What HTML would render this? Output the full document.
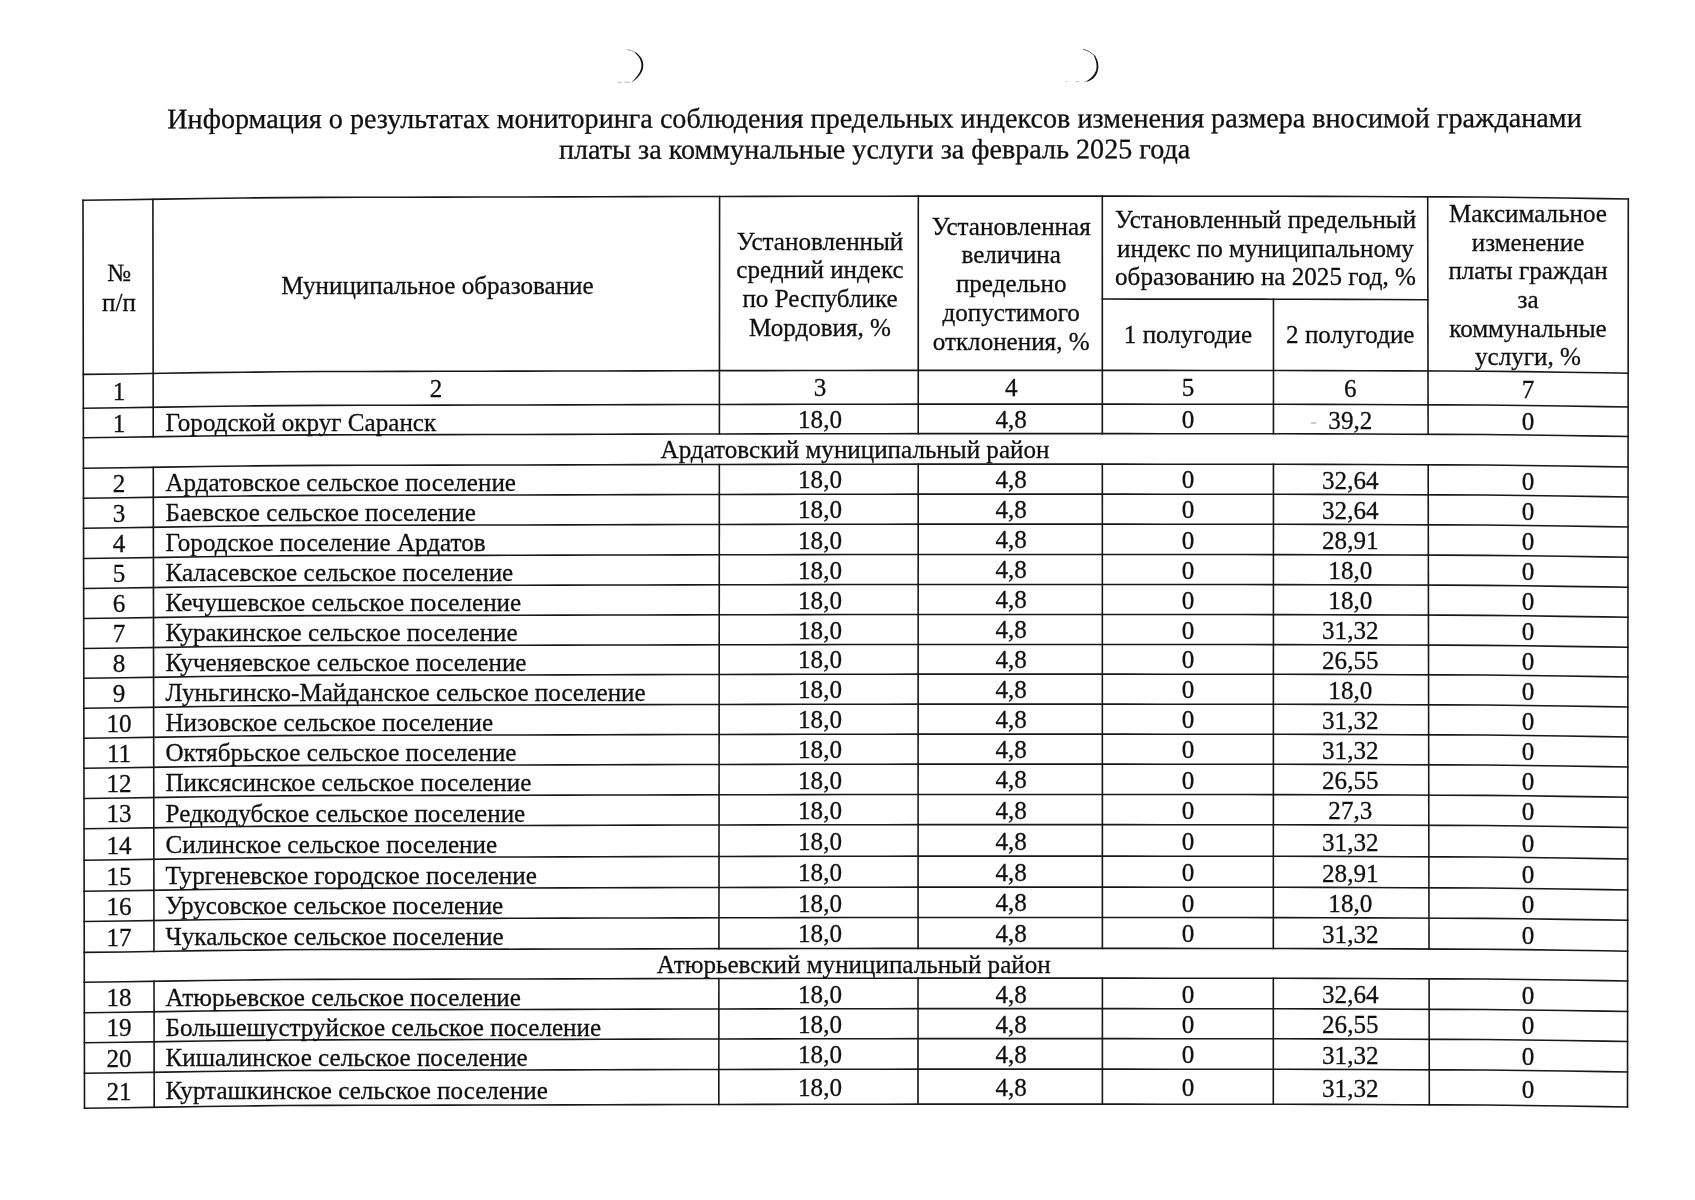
<!DOCTYPE html>
<html><head><meta charset="utf-8"><style>
html,body{margin:0;padding:0;background:#fff;}
body{width:1695px;height:1200px;overflow:hidden;}
svg{position:absolute;left:0;top:0;filter:grayscale(1);}
text{font-family:"Liberation Serif", serif;fill:#111;}
</style></head><body>
<svg width="1695" height="1200" viewBox="0 0 1695 1200">
<g fill="none" stroke="#181818" stroke-width="1.6" stroke-linecap="square">
<path d="M83.0,200.20 L123.0,199.78 L163.0,199.12 L203.0,198.47 L243.0,198.03 L283.0,197.59 L323.0,197.35 L363.0,197.27 L403.0,197.19 L443.0,197.11 L483.0,197.03 L523.0,196.94 L563.0,196.84 L603.0,196.74 L643.0,196.64 L683.0,196.54 L723.0,196.46 L763.0,196.39 L803.0,196.32 L843.0,196.25 L883.0,196.18 L923.0,196.15 L963.0,196.15 L1003.0,196.15 L1043.0,196.15 L1083.0,196.15 L1123.0,196.17 L1163.0,196.20 L1203.0,196.23 L1243.0,196.26 L1283.0,196.29 L1323.0,196.39 L1363.0,196.55 L1403.0,196.71 L1443.0,196.87 L1483.0,197.03 L1523.0,197.43 L1563.0,198.02 L1603.0,198.60 L1628.3,199.00"/>
<path d="M83.3,374.40 L123.3,373.98 L163.3,373.31 L203.3,372.66 L243.3,372.22 L283.3,371.78 L323.3,371.55 L363.3,371.47 L403.3,371.39 L443.3,371.31 L483.3,371.23 L523.3,371.14 L563.3,371.04 L603.3,370.94 L643.3,370.84 L683.3,370.74 L723.3,370.66 L763.3,370.59 L803.3,370.52 L843.3,370.45 L883.3,370.38 L923.3,370.35 L963.3,370.35 L1003.3,370.35 L1043.3,370.35 L1083.3,370.35 L1123.3,370.37 L1163.3,370.40 L1203.3,370.43 L1243.3,370.46 L1283.3,370.49 L1323.3,370.59 L1363.3,370.75 L1403.3,370.91 L1443.3,371.07 L1483.3,371.23 L1523.3,371.64 L1563.3,372.22 L1603.3,372.80 L1628.1,373.20"/>
<path d="M83.3,408.20 L123.3,407.78 L163.3,407.11 L203.3,406.46 L243.3,406.02 L283.3,405.58 L323.3,405.35 L363.3,405.27 L403.3,405.19 L443.3,405.11 L483.3,405.03 L523.3,404.94 L563.3,404.84 L603.3,404.74 L643.3,404.64 L683.3,404.54 L723.3,404.46 L763.3,404.39 L803.3,404.32 L843.3,404.25 L883.3,404.18 L923.3,404.15 L963.3,404.15 L1003.3,404.15 L1043.3,404.15 L1083.3,404.15 L1123.3,404.17 L1163.3,404.20 L1203.3,404.23 L1243.3,404.26 L1283.3,404.29 L1323.3,404.39 L1363.3,404.55 L1403.3,404.71 L1443.3,404.87 L1483.3,405.03 L1523.3,405.44 L1563.3,406.02 L1603.3,406.60 L1628.1,407.00"/>
<path d="M83.4,437.70 L123.4,437.28 L163.4,436.61 L203.4,435.96 L243.4,435.52 L283.4,435.08 L323.4,434.85 L363.4,434.77 L403.4,434.69 L443.4,434.61 L483.4,434.53 L523.4,434.44 L563.4,434.34 L603.4,434.24 L643.4,434.14 L683.4,434.04 L723.4,433.96 L763.4,433.89 L803.4,433.82 L843.4,433.75 L883.4,433.68 L923.4,433.65 L963.4,433.65 L1003.4,433.65 L1043.4,433.65 L1083.4,433.65 L1123.4,433.67 L1163.4,433.70 L1203.4,433.73 L1243.4,433.76 L1283.4,433.79 L1323.4,433.89 L1363.4,434.05 L1403.4,434.21 L1443.4,434.37 L1483.4,434.53 L1523.4,434.94 L1563.4,435.52 L1603.4,436.10 L1628.1,436.50"/>
<path d="M83.4,468.20 L123.4,467.78 L163.4,467.11 L203.4,466.46 L243.4,466.02 L283.4,465.58 L323.4,465.35 L363.4,465.27 L403.4,465.19 L443.4,465.11 L483.4,465.03 L523.4,464.94 L563.4,464.84 L603.4,464.74 L643.4,464.64 L683.4,464.54 L723.4,464.46 L763.4,464.39 L803.4,464.32 L843.4,464.25 L883.4,464.18 L923.4,464.15 L963.4,464.15 L1003.4,464.15 L1043.4,464.15 L1083.4,464.15 L1123.4,464.17 L1163.4,464.20 L1203.4,464.23 L1243.4,464.26 L1283.4,464.29 L1323.4,464.39 L1363.4,464.55 L1403.4,464.71 L1443.4,464.87 L1483.4,465.03 L1523.4,465.44 L1563.4,466.02 L1603.4,466.60 L1628.1,467.00"/>
<path d="M83.5,498.20 L123.5,497.78 L163.5,497.11 L203.5,496.46 L243.5,496.02 L283.5,495.58 L323.5,495.35 L363.5,495.27 L403.5,495.19 L443.5,495.11 L483.5,495.03 L523.5,494.94 L563.5,494.84 L603.5,494.74 L643.5,494.64 L683.5,494.54 L723.5,494.46 L763.5,494.39 L803.5,494.32 L843.5,494.25 L883.5,494.18 L923.5,494.15 L963.5,494.15 L1003.5,494.15 L1043.5,494.15 L1083.5,494.15 L1123.5,494.17 L1163.5,494.20 L1203.5,494.23 L1243.5,494.26 L1283.5,494.29 L1323.5,494.39 L1363.5,494.55 L1403.5,494.71 L1443.5,494.87 L1483.5,495.03 L1523.5,495.44 L1563.5,496.02 L1603.5,496.61 L1628.0,497.00"/>
<path d="M83.5,528.20 L123.5,527.77 L163.5,527.11 L203.5,526.46 L243.5,526.02 L283.5,525.58 L323.5,525.35 L363.5,525.27 L403.5,525.19 L443.5,525.11 L483.5,525.03 L523.5,524.94 L563.5,524.84 L603.5,524.74 L643.5,524.64 L683.5,524.54 L723.5,524.46 L763.5,524.39 L803.5,524.32 L843.5,524.25 L883.5,524.18 L923.5,524.15 L963.5,524.15 L1003.5,524.15 L1043.5,524.15 L1083.5,524.15 L1123.5,524.17 L1163.5,524.20 L1203.5,524.23 L1243.5,524.26 L1283.5,524.29 L1323.5,524.39 L1363.5,524.55 L1403.5,524.71 L1443.5,524.87 L1483.5,525.03 L1523.5,525.44 L1563.5,526.02 L1603.5,526.61 L1628.0,527.00"/>
<path d="M83.6,558.50 L123.6,558.07 L163.6,557.41 L203.6,556.76 L243.6,556.32 L283.6,555.88 L323.6,555.65 L363.6,555.57 L403.6,555.49 L443.6,555.41 L483.6,555.33 L523.6,555.24 L563.6,555.14 L603.6,555.04 L643.6,554.94 L683.6,554.84 L723.6,554.76 L763.6,554.69 L803.6,554.62 L843.6,554.55 L883.6,554.48 L923.6,554.45 L963.6,554.45 L1003.6,554.45 L1043.6,554.45 L1083.6,554.45 L1123.6,554.47 L1163.6,554.50 L1203.6,554.53 L1243.6,554.56 L1283.6,554.59 L1323.6,554.69 L1363.6,554.85 L1403.6,555.01 L1443.6,555.17 L1483.6,555.33 L1523.6,555.74 L1563.6,556.32 L1603.6,556.91 L1628.0,557.30"/>
<path d="M83.6,588.50 L123.6,588.07 L163.6,587.41 L203.6,586.76 L243.6,586.32 L283.6,585.88 L323.6,585.65 L363.6,585.57 L403.6,585.49 L443.6,585.41 L483.6,585.33 L523.6,585.24 L563.6,585.14 L603.6,585.04 L643.6,584.94 L683.6,584.84 L723.6,584.76 L763.6,584.69 L803.6,584.62 L843.6,584.55 L883.6,584.48 L923.6,584.45 L963.6,584.45 L1003.6,584.45 L1043.6,584.45 L1083.6,584.45 L1123.6,584.47 L1163.6,584.50 L1203.6,584.53 L1243.6,584.56 L1283.6,584.59 L1323.6,584.69 L1363.6,584.85 L1403.6,585.01 L1443.6,585.17 L1483.6,585.33 L1523.6,585.74 L1563.6,586.33 L1603.6,586.91 L1628.0,587.30"/>
<path d="M83.7,618.49 L123.7,618.07 L163.7,617.41 L203.7,616.76 L243.7,616.32 L283.7,615.88 L323.7,615.65 L363.7,615.57 L403.7,615.49 L443.7,615.41 L483.7,615.33 L523.7,615.24 L563.7,615.14 L603.7,615.04 L643.7,614.94 L683.7,614.84 L723.7,614.76 L763.7,614.69 L803.7,614.62 L843.7,614.55 L883.7,614.48 L923.7,614.45 L963.7,614.45 L1003.7,614.45 L1043.7,614.45 L1083.7,614.45 L1123.7,614.47 L1163.7,614.50 L1203.7,614.53 L1243.7,614.56 L1283.7,614.59 L1323.7,614.69 L1363.7,614.85 L1403.7,615.01 L1443.7,615.17 L1483.7,615.33 L1523.7,615.74 L1563.7,616.33 L1603.7,616.91 L1627.9,617.30"/>
<path d="M83.7,648.49 L123.7,648.07 L163.7,647.40 L203.7,646.76 L243.7,646.32 L283.7,645.88 L323.7,645.65 L363.7,645.57 L403.7,645.49 L443.7,645.41 L483.7,645.33 L523.7,645.24 L563.7,645.14 L603.7,645.04 L643.7,644.94 L683.7,644.84 L723.7,644.76 L763.7,644.69 L803.7,644.62 L843.7,644.55 L883.7,644.48 L923.7,644.45 L963.7,644.45 L1003.7,644.45 L1043.7,644.45 L1083.7,644.45 L1123.7,644.47 L1163.7,644.50 L1203.7,644.53 L1243.7,644.56 L1283.7,644.59 L1323.7,644.69 L1363.7,644.85 L1403.7,645.01 L1443.7,645.17 L1483.7,645.33 L1523.7,645.75 L1563.7,646.33 L1603.7,646.91 L1627.9,647.30"/>
<path d="M83.8,678.19 L123.8,677.77 L163.8,677.10 L203.8,676.46 L243.8,676.02 L283.8,675.58 L323.8,675.35 L363.8,675.27 L403.8,675.19 L443.8,675.11 L483.8,675.03 L523.8,674.94 L563.8,674.84 L603.8,674.74 L643.8,674.64 L683.8,674.54 L723.8,674.46 L763.8,674.39 L803.8,674.32 L843.8,674.25 L883.8,674.18 L923.8,674.15 L963.8,674.15 L1003.8,674.15 L1043.8,674.15 L1083.8,674.15 L1123.8,674.17 L1163.8,674.20 L1203.8,674.23 L1243.8,674.26 L1283.8,674.29 L1323.8,674.40 L1363.8,674.56 L1403.8,674.72 L1443.8,674.88 L1483.8,675.04 L1523.8,675.45 L1563.8,676.03 L1603.8,676.61 L1627.9,677.00"/>
<path d="M83.8,708.19 L123.8,707.77 L163.8,707.10 L203.8,706.46 L243.8,706.02 L283.8,705.58 L323.8,705.35 L363.8,705.27 L403.8,705.19 L443.8,705.11 L483.8,705.03 L523.8,704.94 L563.8,704.84 L603.8,704.74 L643.8,704.64 L683.8,704.54 L723.8,704.46 L763.8,704.39 L803.8,704.32 L843.8,704.25 L883.8,704.18 L923.8,704.15 L963.8,704.15 L1003.8,704.15 L1043.8,704.15 L1083.8,704.15 L1123.8,704.17 L1163.8,704.20 L1203.8,704.23 L1243.8,704.26 L1283.8,704.29 L1323.8,704.40 L1363.8,704.56 L1403.8,704.72 L1443.8,704.88 L1483.8,705.04 L1523.8,705.45 L1563.8,706.03 L1603.8,706.61 L1627.9,707.00"/>
<path d="M83.9,738.19 L123.9,737.77 L163.9,737.10 L203.9,736.46 L243.9,736.02 L283.9,735.58 L323.9,735.35 L363.9,735.27 L403.9,735.19 L443.9,735.11 L483.9,735.03 L523.9,734.94 L563.9,734.84 L603.9,734.74 L643.9,734.64 L683.9,734.54 L723.9,734.46 L763.9,734.39 L803.9,734.32 L843.9,734.25 L883.9,734.18 L923.9,734.15 L963.9,734.15 L1003.9,734.15 L1043.9,734.15 L1083.9,734.15 L1123.9,734.17 L1163.9,734.20 L1203.9,734.23 L1243.9,734.26 L1283.9,734.29 L1323.9,734.40 L1363.9,734.56 L1403.9,734.72 L1443.9,734.88 L1483.9,735.04 L1523.9,735.45 L1563.9,736.03 L1603.9,736.61 L1627.8,737.00"/>
<path d="M83.9,768.19 L123.9,767.77 L163.9,767.10 L203.9,766.46 L243.9,766.02 L283.9,765.58 L323.9,765.35 L363.9,765.27 L403.9,765.19 L443.9,765.11 L483.9,765.03 L523.9,764.94 L563.9,764.84 L603.9,764.74 L643.9,764.64 L683.9,764.54 L723.9,764.46 L763.9,764.39 L803.9,764.32 L843.9,764.25 L883.9,764.18 L923.9,764.15 L963.9,764.15 L1003.9,764.15 L1043.9,764.15 L1083.9,764.15 L1123.9,764.17 L1163.9,764.20 L1203.9,764.23 L1243.9,764.26 L1283.9,764.29 L1323.9,764.40 L1363.9,764.56 L1403.9,764.72 L1443.9,764.88 L1483.9,765.04 L1523.9,765.45 L1563.9,766.03 L1603.9,766.61 L1627.8,767.00"/>
<path d="M84.0,798.49 L124.0,798.07 L164.0,797.40 L204.0,796.76 L244.0,796.32 L284.0,795.88 L324.0,795.65 L364.0,795.57 L404.0,795.49 L444.0,795.41 L484.0,795.33 L524.0,795.24 L564.0,795.14 L604.0,795.04 L644.0,794.94 L684.0,794.84 L724.0,794.76 L764.0,794.69 L804.0,794.62 L844.0,794.55 L884.0,794.48 L924.0,794.45 L964.0,794.45 L1004.0,794.45 L1044.0,794.45 L1084.0,794.45 L1124.0,794.47 L1164.0,794.50 L1204.0,794.53 L1244.0,794.56 L1284.0,794.59 L1324.0,794.70 L1364.0,794.86 L1404.0,795.02 L1444.0,795.18 L1484.0,795.34 L1524.0,795.75 L1564.0,796.33 L1604.0,796.91 L1627.8,797.30"/>
<path d="M84.0,828.69 L124.0,828.27 L164.0,827.60 L204.0,826.96 L244.0,826.52 L284.0,826.08 L324.0,825.85 L364.0,825.77 L404.0,825.69 L444.0,825.61 L484.0,825.53 L524.0,825.44 L564.0,825.34 L604.0,825.24 L644.0,825.14 L684.0,825.04 L724.0,824.96 L764.0,824.89 L804.0,824.82 L844.0,824.75 L884.0,824.68 L924.0,824.65 L964.0,824.65 L1004.0,824.65 L1044.0,824.65 L1084.0,824.65 L1124.0,824.67 L1164.0,824.70 L1204.0,824.73 L1244.0,824.76 L1284.0,824.79 L1324.0,824.90 L1364.0,825.06 L1404.0,825.22 L1444.0,825.38 L1484.0,825.54 L1524.0,825.95 L1564.0,826.53 L1604.0,827.11 L1627.7,827.50"/>
<path d="M84.1,860.19 L124.1,859.77 L164.1,859.10 L204.1,858.46 L244.1,858.02 L284.1,857.58 L324.1,857.35 L364.1,857.27 L404.1,857.19 L444.1,857.11 L484.1,857.03 L524.1,856.94 L564.1,856.84 L604.1,856.74 L644.1,856.64 L684.1,856.54 L724.1,856.46 L764.1,856.39 L804.1,856.32 L844.1,856.25 L884.1,856.18 L924.1,856.15 L964.1,856.15 L1004.1,856.15 L1044.1,856.15 L1084.1,856.15 L1124.1,856.17 L1164.1,856.20 L1204.1,856.23 L1244.1,856.26 L1284.1,856.29 L1324.1,856.40 L1364.1,856.56 L1404.1,856.72 L1444.1,856.88 L1484.1,857.04 L1524.1,857.45 L1564.1,858.03 L1604.1,858.61 L1627.7,859.00"/>
<path d="M84.1,891.19 L124.1,890.76 L164.1,890.10 L204.1,889.45 L244.1,889.01 L284.1,888.57 L324.1,888.35 L364.1,888.27 L404.1,888.19 L444.1,888.11 L484.1,888.03 L524.1,887.94 L564.1,887.84 L604.1,887.74 L644.1,887.64 L684.1,887.54 L724.1,887.46 L764.1,887.39 L804.1,887.32 L844.1,887.25 L884.1,887.18 L924.1,887.15 L964.1,887.15 L1004.1,887.15 L1044.1,887.15 L1084.1,887.15 L1124.1,887.17 L1164.1,887.20 L1204.1,887.23 L1244.1,887.26 L1284.1,887.29 L1324.1,887.40 L1364.1,887.56 L1404.1,887.72 L1444.1,887.88 L1484.1,888.04 L1524.1,888.45 L1564.1,889.03 L1604.1,889.61 L1627.7,889.99"/>
<path d="M84.2,921.49 L124.2,921.06 L164.2,920.40 L204.2,919.75 L244.2,919.31 L284.2,918.87 L324.2,918.65 L364.2,918.57 L404.2,918.49 L444.2,918.41 L484.2,918.33 L524.2,918.24 L564.2,918.14 L604.2,918.04 L644.2,917.94 L684.2,917.84 L724.2,917.76 L764.2,917.69 L804.2,917.62 L844.2,917.55 L884.2,917.48 L924.2,917.45 L964.2,917.45 L1004.2,917.45 L1044.2,917.45 L1084.2,917.45 L1124.2,917.47 L1164.2,917.50 L1204.2,917.53 L1244.2,917.56 L1284.2,917.59 L1324.2,917.70 L1364.2,917.86 L1404.2,918.02 L1444.2,918.18 L1484.2,918.34 L1524.2,918.75 L1564.2,919.33 L1604.2,919.92 L1627.7,920.29"/>
<path d="M84.2,952.39 L124.2,951.96 L164.2,951.30 L204.2,950.65 L244.2,950.21 L284.2,949.77 L324.2,949.55 L364.2,949.47 L404.2,949.39 L444.2,949.31 L484.2,949.23 L524.2,949.14 L564.2,949.04 L604.2,948.94 L644.2,948.84 L684.2,948.74 L724.2,948.66 L764.2,948.59 L804.2,948.52 L844.2,948.45 L884.2,948.38 L924.2,948.35 L964.2,948.35 L1004.2,948.35 L1044.2,948.35 L1084.2,948.35 L1124.2,948.37 L1164.2,948.40 L1204.2,948.43 L1244.2,948.46 L1284.2,948.49 L1324.2,948.60 L1364.2,948.76 L1404.2,948.92 L1444.2,949.08 L1484.2,949.24 L1524.2,949.65 L1564.2,950.23 L1604.2,950.82 L1627.6,951.19"/>
<path d="M84.3,982.19 L124.3,981.76 L164.3,981.10 L204.3,980.45 L244.3,980.01 L284.3,979.57 L324.3,979.35 L364.3,979.27 L404.3,979.19 L444.3,979.11 L484.3,979.03 L524.3,978.94 L564.3,978.84 L604.3,978.74 L644.3,978.64 L684.3,978.54 L724.3,978.46 L764.3,978.39 L804.3,978.32 L844.3,978.25 L884.3,978.18 L924.3,978.15 L964.3,978.15 L1004.3,978.15 L1044.3,978.15 L1084.3,978.15 L1124.3,978.17 L1164.3,978.20 L1204.3,978.23 L1244.3,978.26 L1284.3,978.29 L1324.3,978.40 L1364.3,978.56 L1404.3,978.72 L1444.3,978.88 L1484.3,979.04 L1524.3,979.45 L1564.3,980.04 L1604.3,980.62 L1627.6,980.99"/>
<path d="M84.3,1012.69 L124.3,1012.26 L164.3,1011.59 L204.3,1010.95 L244.3,1010.51 L284.3,1010.07 L324.3,1009.85 L364.3,1009.77 L404.3,1009.69 L444.3,1009.61 L484.3,1009.53 L524.3,1009.44 L564.3,1009.34 L604.3,1009.24 L644.3,1009.14 L684.3,1009.04 L724.3,1008.96 L764.3,1008.89 L804.3,1008.82 L844.3,1008.75 L884.3,1008.68 L924.3,1008.65 L964.3,1008.65 L1004.3,1008.65 L1044.3,1008.65 L1084.3,1008.65 L1124.3,1008.67 L1164.3,1008.70 L1204.3,1008.73 L1244.3,1008.76 L1284.3,1008.79 L1324.3,1008.90 L1364.3,1009.06 L1404.3,1009.22 L1444.3,1009.38 L1484.3,1009.54 L1524.3,1009.95 L1564.3,1010.54 L1604.3,1011.12 L1627.6,1011.49"/>
<path d="M84.4,1042.69 L124.4,1042.26 L164.4,1041.59 L204.4,1040.95 L244.4,1040.51 L284.4,1040.07 L324.4,1039.85 L364.4,1039.77 L404.4,1039.69 L444.4,1039.61 L484.4,1039.53 L524.4,1039.44 L564.4,1039.34 L604.4,1039.24 L644.4,1039.14 L684.4,1039.04 L724.4,1038.96 L764.4,1038.89 L804.4,1038.82 L844.4,1038.75 L884.4,1038.68 L924.4,1038.65 L964.4,1038.65 L1004.4,1038.65 L1044.4,1038.65 L1084.4,1038.65 L1124.4,1038.67 L1164.4,1038.70 L1204.4,1038.73 L1244.4,1038.76 L1284.4,1038.79 L1324.4,1038.90 L1364.4,1039.06 L1404.4,1039.22 L1444.4,1039.38 L1484.4,1039.54 L1524.4,1039.95 L1564.4,1040.54 L1604.4,1041.12 L1627.6,1041.49"/>
<path d="M84.4,1073.19 L124.4,1072.76 L164.4,1072.09 L204.4,1071.45 L244.4,1071.01 L284.4,1070.57 L324.4,1070.35 L364.4,1070.27 L404.4,1070.19 L444.4,1070.11 L484.4,1070.03 L524.4,1069.94 L564.4,1069.84 L604.4,1069.74 L644.4,1069.64 L684.4,1069.54 L724.4,1069.46 L764.4,1069.39 L804.4,1069.32 L844.4,1069.25 L884.4,1069.18 L924.4,1069.15 L964.4,1069.15 L1004.4,1069.15 L1044.4,1069.15 L1084.4,1069.15 L1124.4,1069.17 L1164.4,1069.20 L1204.4,1069.23 L1244.4,1069.26 L1284.4,1069.29 L1324.4,1069.40 L1364.4,1069.56 L1404.4,1069.72 L1444.4,1069.88 L1484.4,1070.04 L1524.4,1070.46 L1564.4,1071.04 L1604.4,1071.62 L1627.5,1071.99"/>
<path d="M84.5,1108.19 L124.5,1107.76 L164.5,1107.09 L204.5,1106.45 L244.5,1106.01 L284.5,1105.57 L324.5,1105.35 L364.5,1105.27 L404.5,1105.19 L444.5,1105.11 L484.5,1105.03 L524.5,1104.94 L564.5,1104.84 L604.5,1104.74 L644.5,1104.64 L684.5,1104.54 L724.5,1104.46 L764.5,1104.39 L804.5,1104.32 L844.5,1104.25 L884.5,1104.18 L924.5,1104.15 L964.5,1104.15 L1004.5,1104.15 L1044.5,1104.15 L1084.5,1104.15 L1124.5,1104.17 L1164.5,1104.20 L1204.5,1104.23 L1244.5,1104.26 L1284.5,1104.29 L1324.5,1104.40 L1364.5,1104.56 L1404.5,1104.72 L1444.5,1104.88 L1484.5,1105.04 L1524.5,1105.46 L1564.5,1106.04 L1604.5,1106.62 L1627.5,1106.99"/>
<path d="M1102.3,299.05 L1142.3,299.08 L1182.3,299.11 L1222.3,299.14 L1262.3,299.17 L1302.3,299.21 L1342.3,299.37 L1382.3,299.53 L1422.3,299.69 L1427.9,299.71"/>
<path d="M83.00,200.20 L84.50,1108.19"/>
<path d="M1628.30,199.00 L1627.50,1106.99"/>
<path d="M152.90,199.28 L153.24,436.78"/>
<path d="M153.28,467.28 L153.98,951.47"/>
<path d="M154.02,981.27 L154.20,1107.26"/>
<path d="M719.60,196.47 L719.39,433.97"/>
<path d="M719.36,464.47 L718.94,948.67"/>
<path d="M718.91,978.47 L718.80,1104.47"/>
<path d="M918.30,196.15 L918.22,433.65"/>
<path d="M918.21,464.15 L918.05,948.35"/>
<path d="M918.04,978.15 L918.00,1104.15"/>
<path d="M1102.30,196.15 L1102.33,433.65"/>
<path d="M1102.33,464.15 L1102.38,948.35"/>
<path d="M1102.39,978.15 L1102.40,1104.15"/>
<path d="M1427.70,196.81 L1428.12,434.31"/>
<path d="M1428.17,464.81 L1429.03,949.02"/>
<path d="M1429.08,978.82 L1429.30,1104.82"/>
<path d="M1273.48,299.18 L1273.45,433.78"/>
<path d="M1273.44,464.28 L1273.33,948.48"/>
<path d="M1273.33,978.28 L1273.30,1104.28"/>
</g>
<g stroke-linecap="round">
<path d="M627.5,49.6 C630,50.3 633,51.2 636,52.6" stroke="#9a9a9a" stroke-width="1" fill="none"/>
<path d="M635.5,52.2 C640.5,55.5 643.4,60 643.3,65.5 C643.2,71.5 639.5,77 633,81.6 L631.5,82.3 C636.5,77.5 641.2,72 641.4,65.5 C641.5,60 638.5,56 635,53 Z" fill="#141414" stroke="none"/>
<path d="M618,82.2 L621,82.2 M625,82.2 L629.5,82.2" stroke="#aaa" stroke-width="0.9" fill="none"/>
<path d="M1083.5,49.3 C1086,50.5 1087.5,50.6 1089.5,51.6 C1091.5,53.5 1093.5,54.5 1095.2,56" stroke="#555" stroke-width="1" fill="none"/>
<path d="M1094.8,55.5 C1097.3,59 1098.5,62.5 1098.4,67 C1098.3,71 1096.8,75 1093.5,78.3 C1091.5,80 1089.5,80.8 1087.5,81.6 L1086.8,81 C1090,79 1094,75.5 1096.1,70.5 C1097,67 1096.8,61.5 1094,56.2 Z" fill="#141414" stroke="none"/>
<path d="M1085.2,81.4 L1088,81.4" stroke="#888" stroke-width="0.9" fill="none"/>
<path d="M1311.5,423 L1316,423" stroke="#999" stroke-width="1" fill="none"/>
<path d="M1066,81.5 L1067,81.5 M1076,81.5 L1079,81.5" stroke="#bbb" stroke-width="0.9" fill="none"/>
</g>
<g stroke="#111" stroke-width="0.3">
<text x="874.5" y="127.6" font-size="28.15" text-anchor="middle" transform="rotate(-0.045 874.5 127.6)">Информация о результатах мониторинга соблюдения предельных индексов изменения размера вносимой гражданами</text>
<text x="874.6" y="158.5" font-size="28.15" text-anchor="middle" transform="rotate(-0.06 874.6 158.5)">платы за коммунальные услуги за февраль 2025 года</text>
<text x="119.0" y="281.00" font-size="25.1" text-anchor="middle">№</text>
<text x="119.0" y="310.50" font-size="25.1" text-anchor="middle">п/п</text>
<text x="437.5" y="293.70" font-size="25.1" text-anchor="middle">Муниципальное образование</text>
<text x="820.0" y="249.50" font-size="25.1" text-anchor="middle">Установленный</text>
<text x="820.0" y="277.50" font-size="25.1" text-anchor="middle">средний индекс</text>
<text x="820.0" y="306.50" font-size="25.1" text-anchor="middle">по Республике</text>
<text x="820.0" y="335.50" font-size="25.1" text-anchor="middle">Мордовия, %</text>
<text x="1011.2" y="234.50" font-size="25.1" text-anchor="middle">Установленная</text>
<text x="1011.2" y="263.30" font-size="25.1" text-anchor="middle">величина</text>
<text x="1011.2" y="292.00" font-size="25.1" text-anchor="middle">предельно</text>
<text x="1011.2" y="320.80" font-size="25.1" text-anchor="middle">допустимого</text>
<text x="1011.2" y="349.60" font-size="25.1" text-anchor="middle">отклонения, %</text>
<text x="1265.5" y="228.10" font-size="25.1" text-anchor="middle">Установленный предельный</text>
<text x="1265.5" y="256.70" font-size="25.1" text-anchor="middle">индекс по муниципальному</text>
<text x="1265.5" y="285.30" font-size="25.1" text-anchor="middle">образованию на 2025 год, %</text>
<text x="1188.0" y="343.40" font-size="25.1" text-anchor="middle">1 полугодие</text>
<text x="1350.3" y="343.40" font-size="25.1" text-anchor="middle">2 полугодие</text>
<text x="1528.0" y="222.00" font-size="25.1" text-anchor="middle">Максимальное</text>
<text x="1528.0" y="250.70" font-size="25.1" text-anchor="middle">изменение</text>
<text x="1528.0" y="279.40" font-size="25.1" text-anchor="middle">платы граждан</text>
<text x="1528.0" y="308.00" font-size="25.1" text-anchor="middle">за</text>
<text x="1528.0" y="336.70" font-size="25.1" text-anchor="middle">коммунальные</text>
<text x="1528.0" y="365.40" font-size="25.1" text-anchor="middle">услуги, %</text>
<text x="119.0" y="399.85" font-size="25.1" text-anchor="middle">1</text>
<text x="436.0" y="397.13" font-size="25.1" text-anchor="middle">2</text>
<text x="820.0" y="396.29" font-size="25.1" text-anchor="middle">3</text>
<text x="1011.2" y="396.15" font-size="25.1" text-anchor="middle">4</text>
<text x="1188.0" y="396.22" font-size="25.1" text-anchor="middle">5</text>
<text x="1350.3" y="396.50" font-size="25.1" text-anchor="middle">6</text>
<text x="1528.0" y="397.51" font-size="25.1" text-anchor="middle">7</text>
<text x="119.0" y="432.05" font-size="25.1" text-anchor="middle">1</text>
<text x="165.5" y="431.27" font-size="25.1" text-anchor="start">Городской округ Саранск</text>
<text x="820.0" y="428.49" font-size="25.1" text-anchor="middle">18,0</text>
<text x="1011.2" y="428.35" font-size="25.1" text-anchor="middle">4,8</text>
<text x="1188.0" y="428.42" font-size="25.1" text-anchor="middle">0</text>
<text x="1350.3" y="428.70" font-size="25.1" text-anchor="middle">39,2</text>
<text x="1528.0" y="429.71" font-size="25.1" text-anchor="middle">0</text>
<text x="855.0" y="458.43" font-size="25.1" text-anchor="middle">Ардатовский муниципальный район</text>
<text x="119.0" y="491.85" font-size="25.1" text-anchor="middle">2</text>
<text x="165.5" y="491.07" font-size="25.1" text-anchor="start">Ардатовское сельское поселение</text>
<text x="820.0" y="488.29" font-size="25.1" text-anchor="middle">18,0</text>
<text x="1011.2" y="488.15" font-size="25.1" text-anchor="middle">4,8</text>
<text x="1188.0" y="488.22" font-size="25.1" text-anchor="middle">0</text>
<text x="1350.3" y="488.50" font-size="25.1" text-anchor="middle">32,64</text>
<text x="1528.0" y="489.51" font-size="25.1" text-anchor="middle">0</text>
<text x="119.0" y="521.85" font-size="25.1" text-anchor="middle">3</text>
<text x="165.5" y="521.08" font-size="25.1" text-anchor="start">Баевское сельское поселение</text>
<text x="820.0" y="518.29" font-size="25.1" text-anchor="middle">18,0</text>
<text x="1011.2" y="518.15" font-size="25.1" text-anchor="middle">4,8</text>
<text x="1188.0" y="518.22" font-size="25.1" text-anchor="middle">0</text>
<text x="1350.3" y="518.50" font-size="25.1" text-anchor="middle">32,64</text>
<text x="1528.0" y="519.51" font-size="25.1" text-anchor="middle">0</text>
<text x="119.0" y="552.15" font-size="25.1" text-anchor="middle">4</text>
<text x="165.5" y="551.38" font-size="25.1" text-anchor="start">Городское поселение Ардатов</text>
<text x="820.0" y="548.59" font-size="25.1" text-anchor="middle">18,0</text>
<text x="1011.2" y="548.45" font-size="25.1" text-anchor="middle">4,8</text>
<text x="1188.0" y="548.52" font-size="25.1" text-anchor="middle">0</text>
<text x="1350.3" y="548.80" font-size="25.1" text-anchor="middle">28,91</text>
<text x="1528.0" y="549.81" font-size="25.1" text-anchor="middle">0</text>
<text x="119.0" y="582.15" font-size="25.1" text-anchor="middle">5</text>
<text x="165.5" y="581.38" font-size="25.1" text-anchor="start">Каласевское сельское поселение</text>
<text x="820.0" y="578.59" font-size="25.1" text-anchor="middle">18,0</text>
<text x="1011.2" y="578.45" font-size="25.1" text-anchor="middle">4,8</text>
<text x="1188.0" y="578.52" font-size="25.1" text-anchor="middle">0</text>
<text x="1350.3" y="578.80" font-size="25.1" text-anchor="middle">18,0</text>
<text x="1528.0" y="579.81" font-size="25.1" text-anchor="middle">0</text>
<text x="119.0" y="612.15" font-size="25.1" text-anchor="middle">6</text>
<text x="165.5" y="611.38" font-size="25.1" text-anchor="start">Кечушевское сельское поселение</text>
<text x="820.0" y="608.59" font-size="25.1" text-anchor="middle">18,0</text>
<text x="1011.2" y="608.45" font-size="25.1" text-anchor="middle">4,8</text>
<text x="1188.0" y="608.52" font-size="25.1" text-anchor="middle">0</text>
<text x="1350.3" y="608.80" font-size="25.1" text-anchor="middle">18,0</text>
<text x="1528.0" y="609.81" font-size="25.1" text-anchor="middle">0</text>
<text x="119.0" y="642.15" font-size="25.1" text-anchor="middle">7</text>
<text x="165.5" y="641.38" font-size="25.1" text-anchor="start">Куракинское сельское поселение</text>
<text x="820.0" y="638.59" font-size="25.1" text-anchor="middle">18,0</text>
<text x="1011.2" y="638.45" font-size="25.1" text-anchor="middle">4,8</text>
<text x="1188.0" y="638.52" font-size="25.1" text-anchor="middle">0</text>
<text x="1350.3" y="638.80" font-size="25.1" text-anchor="middle">31,32</text>
<text x="1528.0" y="639.81" font-size="25.1" text-anchor="middle">0</text>
<text x="119.0" y="671.85" font-size="25.1" text-anchor="middle">8</text>
<text x="165.5" y="671.08" font-size="25.1" text-anchor="start">Кученяевское сельское поселение</text>
<text x="820.0" y="668.29" font-size="25.1" text-anchor="middle">18,0</text>
<text x="1011.2" y="668.15" font-size="25.1" text-anchor="middle">4,8</text>
<text x="1188.0" y="668.22" font-size="25.1" text-anchor="middle">0</text>
<text x="1350.3" y="668.50" font-size="25.1" text-anchor="middle">26,55</text>
<text x="1528.0" y="669.51" font-size="25.1" text-anchor="middle">0</text>
<text x="119.0" y="701.85" font-size="25.1" text-anchor="middle">9</text>
<text x="165.5" y="701.08" font-size="25.1" text-anchor="start">Луньгинско-Майданское сельское поселение</text>
<text x="820.0" y="698.29" font-size="25.1" text-anchor="middle">18,0</text>
<text x="1011.2" y="698.15" font-size="25.1" text-anchor="middle">4,8</text>
<text x="1188.0" y="698.22" font-size="25.1" text-anchor="middle">0</text>
<text x="1350.3" y="698.50" font-size="25.1" text-anchor="middle">18,0</text>
<text x="1528.0" y="699.51" font-size="25.1" text-anchor="middle">0</text>
<text x="119.0" y="731.85" font-size="25.1" text-anchor="middle">10</text>
<text x="165.5" y="731.08" font-size="25.1" text-anchor="start">Низовское сельское поселение</text>
<text x="820.0" y="728.29" font-size="25.1" text-anchor="middle">18,0</text>
<text x="1011.2" y="728.15" font-size="25.1" text-anchor="middle">4,8</text>
<text x="1188.0" y="728.22" font-size="25.1" text-anchor="middle">0</text>
<text x="1350.3" y="728.50" font-size="25.1" text-anchor="middle">31,32</text>
<text x="1528.0" y="729.51" font-size="25.1" text-anchor="middle">0</text>
<text x="119.0" y="761.85" font-size="25.1" text-anchor="middle">11</text>
<text x="165.5" y="761.08" font-size="25.1" text-anchor="start">Октябрьское сельское поселение</text>
<text x="820.0" y="758.29" font-size="25.1" text-anchor="middle">18,0</text>
<text x="1011.2" y="758.15" font-size="25.1" text-anchor="middle">4,8</text>
<text x="1188.0" y="758.22" font-size="25.1" text-anchor="middle">0</text>
<text x="1350.3" y="758.50" font-size="25.1" text-anchor="middle">31,32</text>
<text x="1528.0" y="759.51" font-size="25.1" text-anchor="middle">0</text>
<text x="119.0" y="792.15" font-size="25.1" text-anchor="middle">12</text>
<text x="165.5" y="791.38" font-size="25.1" text-anchor="start">Пиксясинское сельское поселение</text>
<text x="820.0" y="788.59" font-size="25.1" text-anchor="middle">18,0</text>
<text x="1011.2" y="788.45" font-size="25.1" text-anchor="middle">4,8</text>
<text x="1188.0" y="788.52" font-size="25.1" text-anchor="middle">0</text>
<text x="1350.3" y="788.80" font-size="25.1" text-anchor="middle">26,55</text>
<text x="1528.0" y="789.81" font-size="25.1" text-anchor="middle">0</text>
<text x="119.0" y="822.35" font-size="25.1" text-anchor="middle">13</text>
<text x="165.5" y="821.58" font-size="25.1" text-anchor="start">Редкодубское сельское поселение</text>
<text x="820.0" y="818.79" font-size="25.1" text-anchor="middle">18,0</text>
<text x="1011.2" y="818.65" font-size="25.1" text-anchor="middle">4,8</text>
<text x="1188.0" y="818.72" font-size="25.1" text-anchor="middle">0</text>
<text x="1350.3" y="819.00" font-size="25.1" text-anchor="middle">27,3</text>
<text x="1528.0" y="820.01" font-size="25.1" text-anchor="middle">0</text>
<text x="119.0" y="853.85" font-size="25.1" text-anchor="middle">14</text>
<text x="165.5" y="853.08" font-size="25.1" text-anchor="start">Силинское сельское поселение</text>
<text x="820.0" y="850.29" font-size="25.1" text-anchor="middle">18,0</text>
<text x="1011.2" y="850.15" font-size="25.1" text-anchor="middle">4,8</text>
<text x="1188.0" y="850.22" font-size="25.1" text-anchor="middle">0</text>
<text x="1350.3" y="850.50" font-size="25.1" text-anchor="middle">31,32</text>
<text x="1528.0" y="851.51" font-size="25.1" text-anchor="middle">0</text>
<text x="119.0" y="884.85" font-size="25.1" text-anchor="middle">15</text>
<text x="165.5" y="884.08" font-size="25.1" text-anchor="start">Тургеневское городское поселение</text>
<text x="820.0" y="881.29" font-size="25.1" text-anchor="middle">18,0</text>
<text x="1011.2" y="881.15" font-size="25.1" text-anchor="middle">4,8</text>
<text x="1188.0" y="881.22" font-size="25.1" text-anchor="middle">0</text>
<text x="1350.3" y="881.50" font-size="25.1" text-anchor="middle">28,91</text>
<text x="1528.0" y="882.51" font-size="25.1" text-anchor="middle">0</text>
<text x="119.0" y="915.15" font-size="25.1" text-anchor="middle">16</text>
<text x="165.5" y="914.38" font-size="25.1" text-anchor="start">Урусовское сельское поселение</text>
<text x="820.0" y="911.59" font-size="25.1" text-anchor="middle">18,0</text>
<text x="1011.2" y="911.45" font-size="25.1" text-anchor="middle">4,8</text>
<text x="1188.0" y="911.52" font-size="25.1" text-anchor="middle">0</text>
<text x="1350.3" y="911.80" font-size="25.1" text-anchor="middle">18,0</text>
<text x="1528.0" y="912.81" font-size="25.1" text-anchor="middle">0</text>
<text x="119.0" y="946.05" font-size="25.1" text-anchor="middle">17</text>
<text x="165.5" y="945.28" font-size="25.1" text-anchor="start">Чукальское сельское поселение</text>
<text x="820.0" y="942.49" font-size="25.1" text-anchor="middle">18,0</text>
<text x="1011.2" y="942.35" font-size="25.1" text-anchor="middle">4,8</text>
<text x="1188.0" y="942.42" font-size="25.1" text-anchor="middle">0</text>
<text x="1350.3" y="942.70" font-size="25.1" text-anchor="middle">31,32</text>
<text x="1528.0" y="943.71" font-size="25.1" text-anchor="middle">0</text>
<text x="853.8" y="972.73" font-size="25.1" text-anchor="middle">Атюрьевский муниципальный район</text>
<text x="119.0" y="1006.35" font-size="25.1" text-anchor="middle">18</text>
<text x="165.5" y="1005.58" font-size="25.1" text-anchor="start">Атюрьевское сельское поселение</text>
<text x="820.0" y="1002.79" font-size="25.1" text-anchor="middle">18,0</text>
<text x="1011.2" y="1002.65" font-size="25.1" text-anchor="middle">4,8</text>
<text x="1188.0" y="1002.72" font-size="25.1" text-anchor="middle">0</text>
<text x="1350.3" y="1003.00" font-size="25.1" text-anchor="middle">32,64</text>
<text x="1528.0" y="1004.01" font-size="25.1" text-anchor="middle">0</text>
<text x="119.0" y="1036.35" font-size="25.1" text-anchor="middle">19</text>
<text x="165.5" y="1035.58" font-size="25.1" text-anchor="start">Большешуструйское сельское поселение</text>
<text x="820.0" y="1032.79" font-size="25.1" text-anchor="middle">18,0</text>
<text x="1011.2" y="1032.65" font-size="25.1" text-anchor="middle">4,8</text>
<text x="1188.0" y="1032.72" font-size="25.1" text-anchor="middle">0</text>
<text x="1350.3" y="1033.00" font-size="25.1" text-anchor="middle">26,55</text>
<text x="1528.0" y="1034.01" font-size="25.1" text-anchor="middle">0</text>
<text x="119.0" y="1066.85" font-size="25.1" text-anchor="middle">20</text>
<text x="165.5" y="1066.08" font-size="25.1" text-anchor="start">Кишалинское сельское поселение</text>
<text x="820.0" y="1063.29" font-size="25.1" text-anchor="middle">18,0</text>
<text x="1011.2" y="1063.15" font-size="25.1" text-anchor="middle">4,8</text>
<text x="1188.0" y="1063.22" font-size="25.1" text-anchor="middle">0</text>
<text x="1350.3" y="1063.50" font-size="25.1" text-anchor="middle">31,32</text>
<text x="1528.0" y="1064.51" font-size="25.1" text-anchor="middle">0</text>
<text x="119.0" y="1099.95" font-size="25.1" text-anchor="middle">21</text>
<text x="165.5" y="1099.17" font-size="25.1" text-anchor="start">Курташкинское сельское поселение</text>
<text x="820.0" y="1096.39" font-size="25.1" text-anchor="middle">18,0</text>
<text x="1011.2" y="1096.25" font-size="25.1" text-anchor="middle">4,8</text>
<text x="1188.0" y="1096.32" font-size="25.1" text-anchor="middle">0</text>
<text x="1350.3" y="1096.60" font-size="25.1" text-anchor="middle">31,32</text>
<text x="1528.0" y="1097.61" font-size="25.1" text-anchor="middle">0</text>
</g>
</svg>
</body></html>
